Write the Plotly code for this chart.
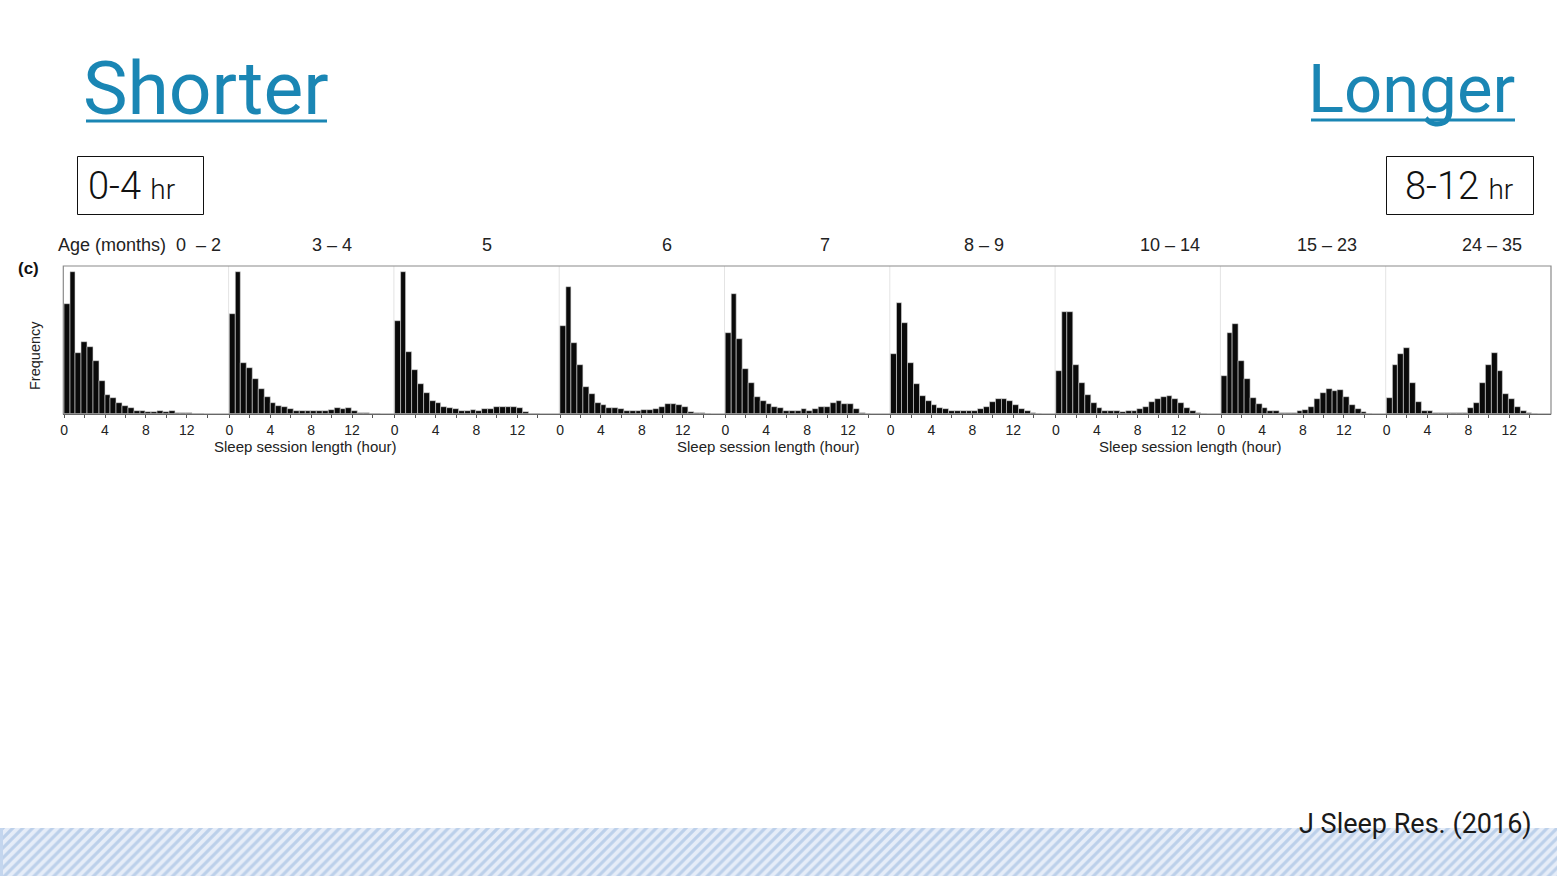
import plotly.graph_objects as go

# ---------------- data ----------------
AGE_GROUPS = ["0  – 2", "3 – 4", "5", "6", "7", "8 – 9", "10 – 14", "15 – 23", "24 – 35"]
BIN_WIDTH_H = 0.57          # histogram bin width in hours (estimated)
X_TICKS = [0, 4, 8, 12]

# relative frequency per bin (% of panel height), bins start at 0 h
F_0_2 = [74.5, 96, 41.4, 48.4, 45, 36, 22.5, 12.6, 10.8, 7.7, 5.4, 4, 2.3, 2.3, 1.4, 1.4,
         1.8, 1.4, 1.8, 0.9, 0.5, 0.5, 0.3, 0.1]
F_3_4 = [67.8, 96, 34.5, 31, 23.4, 16.7, 11.5, 7.7, 5.4, 4.5, 3.6, 2.3, 2.3, 2.3, 2.3, 2.3,
         2.3, 2.7, 4, 3.4, 4, 2.3, 0.9, 0.5, 0.2, 0.2]
F_5 = [62.6, 96, 41.9, 29.5, 20, 14, 8.6, 7.2, 5, 4, 3.2, 2.3, 2.3, 2.7, 1.8, 3.2, 3.2, 4.5,
       4.7, 5, 5, 4, 1.4, 0.2, 0.2]
F_6 = [59.5, 85.8, 48, 33.3, 18, 13.5, 7.7, 6.3, 4.3, 4.3, 3.6, 2.3, 2.3, 2.3, 2.7, 2.9, 3.2,
       4.5, 6.8, 6.8, 6.3, 5, 1.6, 0.7, 0.5, 0.2]
F_7 = [55, 80.9, 50.5, 30.6, 20.7, 11.5, 9, 6.8, 4.7, 4, 2.3, 1.8, 2.3, 3.2, 2.3, 3.6, 4.5, 5,
       7.7, 8.6, 6.8, 6.8, 3.2, 0.9, 0.2]
F_8_9 = [40.3, 75.2, 61.7, 34.7, 20.3, 12.2, 8.6, 6.3, 4, 3.6, 1.8, 1.8, 1.8, 1.8, 2.3, 3.2, 5,
         8.1, 10.1, 10.4, 8.6, 6.3, 3.6, 1.8, 0.7, 0.2]
F_10_14 = [29, 69, 69, 32.9, 21.2, 12.6, 7.7, 4, 2.3, 2.3, 2.3, 1.4, 2.3, 2.3, 3.6, 4.5, 8.1,
           10.4, 11.5, 12.2, 9.9, 7.2, 4, 1.8, 0.5, 0.2]
F_15_23 = [25.5, 55, 61, 35.6, 23.9, 10.8, 6.8, 4, 2.3, 1.8, 0.9, 0.9, 0.9, 1.8, 2.7, 4.5, 9.9,
           14.4, 16.7, 15.8, 16, 11.5, 6.3, 3.6, 1.1, 0.2]
F_24_35 = [10.8, 32.9, 40.3, 44.6, 21.2, 8.1, 2.3, 2.3, 0.5, 0.5, 0.5, 0.7, 0.5, 0.7, 4, 7.2,
           21.2, 33.3, 41, 28.8, 13.5, 10.4, 4.5, 1.8, 0.7, 0.2]
PANELS = [F_0_2, F_3_4, F_5, F_6, F_7, F_8_9, F_10_14, F_15_23, F_24_35]

# ---------------- layout constants (pixels) ----------------
W, H = 1557, 876
X_OFF = 3          # observed left offset of the paper area in the rendered page
PANEL_LEFT_PX = 63.3
PANEL_W_PX = 165.3
PLOT_TOP_PX, PLOT_BOT_PX = 266, 414
BAND_TOP_PX = 828
X_RANGE = [-0.08, 16.09]
AGE_LABEL_X_PX = [None, 332, 487, 667, 825, 984, 1170, 1327, 1492]
XLABEL_X_PX = [305, 768, 1190]

BLUE = "#1a86b4"
SLIDE_FONT = "Roboto"
FIG_FONT = "Liberation Sans"


def px(x):
    return (x - X_OFF) / (W - X_OFF)


def py(y):
    return 1 - y / H


fig = go.Figure()
layout = dict(
    width=W, height=H, margin=dict(l=0, r=0, t=0, b=0, pad=0),
    paper_bgcolor="white", plot_bgcolor="rgba(0,0,0,0)",
    showlegend=False, bargap=0,
)

ydom = [py(PLOT_BOT_PX), py(PLOT_TOP_PX)]
tickvals = list(range(0, 16, 2))
ticktext = [str(v) if v in X_TICKS else "" for v in tickvals]

for i, freq in enumerate(PANELS):
    n = i + 1
    xname = "x" if n == 1 else f"x{n}"
    yname = "y" if n == 1 else f"y{n}"
    xs = [BIN_WIDTH_H * (k + 0.5) for k in range(len(freq))]
    fig.add_trace(go.Bar(
        x=xs, y=freq, width=BIN_WIDTH_H, xaxis=xname, yaxis=yname,
        marker=dict(color="#0a0a0a", line=dict(color="#d8d8d8", width=0.6)),
        hoverinfo="skip",
    ))
    x0 = px(PANEL_LEFT_PX + PANEL_W_PX * i)
    x1 = px(PANEL_LEFT_PX + PANEL_W_PX * (i + 1))
    layout["xaxis" if n == 1 else f"xaxis{n}"] = dict(
        domain=[x0, x1], range=X_RANGE, anchor=yname,
        tickvals=tickvals, ticktext=ticktext, ticks="outside", ticklen=3,
        tickcolor="#555", tickwidth=1, ticklabelstandoff=0,
        showline=True, linecolor="#444", linewidth=1,
        showgrid=False, zeroline=False, fixedrange=True,
        tickfont=dict(family=FIG_FONT, size=14, color="#222"),
    )
    layout["yaxis" if n == 1 else f"yaxis{n}"] = dict(
        domain=ydom, range=[0, 100], anchor=xname, visible=False, fixedrange=True,
    )

# hatched band at the bottom of the slide
fig.add_trace(go.Bar(
    x=[0.5], y=[1], width=[1], xaxis="x10", yaxis="y10", hoverinfo="skip",
    marker=dict(color="#e4ecf7", line=dict(width=0),
                pattern=dict(shape="/", fgcolor="#92b3dc", bgcolor="#e6edf8",
                             size=7, solidity=0.45)),
))
layout["xaxis10"] = dict(domain=[0, 1], range=[0, 1], anchor="y10", visible=False, fixedrange=True)
layout["yaxis10"] = dict(domain=[0, py(BAND_TOP_PX)], range=[0, 1], anchor="x10",
                         visible=False, fixedrange=True)

shapes = []
# fill the few pixels left of the paper area with the band tint
shapes.append(dict(type="rect", xref="paper", yref="paper", x0=px(0), x1=px(X_OFF),
                   y0=py(H), y1=py(BAND_TOP_PX), fillcolor="#c4d6ee", line=dict(width=0)))
# frame
shapes.append(dict(type="rect", xref="paper", yref="paper",
                   x0=px(PANEL_LEFT_PX), x1=px(PANEL_LEFT_PX + PANEL_W_PX * 9),
                   y0=ydom[0], y1=ydom[1], line=dict(color="#8a8a8a", width=1.2)))
# faint panel dividers
for i in range(1, 9):
    xx = px(PANEL_LEFT_PX + PANEL_W_PX * i)
    shapes.append(dict(type="line", xref="paper", yref="paper", x0=xx, x1=xx,
                       y0=ydom[0], y1=ydom[1], layer="below",
                       line=dict(color="#e4e4e4", width=1)))
# underlines of the headings
shapes.append(dict(type="line", xref="paper", yref="paper", x0=px(86), x1=px(327),
                   y0=py(121), y1=py(121), line=dict(color=BLUE, width=3)))
shapes.append(dict(type="line", xref="paper", yref="paper", x0=px(1311), x1=px(1515),
                   y0=py(120), y1=py(120), line=dict(color=BLUE, width=3)))
# boxes
shapes.append(dict(type="rect", xref="paper", yref="paper", x0=px(77.5), x1=px(203.5),
                   y0=py(214.5), y1=py(156.5), line=dict(color="#111", width=1)))
shapes.append(dict(type="rect", xref="paper", yref="paper", x0=px(1386.5), x1=px(1533.5),
                   y0=py(214.5), y1=py(156.5), line=dict(color="#111", width=1)))
layout["shapes"] = shapes

ann = []


def add_text(text, x, y, size, family=FIG_FONT, color="#222", xanchor="center",
             yanchor="middle", angle=0, weight=None):
    font = dict(family=family, size=size, color=color)
    if weight:
        font["weight"] = weight
    ann.append(dict(text=text, x=px(x), y=py(y), xref="paper", yref="paper",
                    showarrow=False, xanchor=xanchor, yanchor=yanchor, textangle=angle,
                    font=font))


# age row
add_text("Age (months)  " + AGE_GROUPS[0], 56, 245, 18, xanchor="left")
for lab, xc in zip(AGE_GROUPS[1:], AGE_LABEL_X_PX[1:]):
    add_text(lab, xc, 245, 18)
add_text("<b>(c)</b>", 28, 268, 17, color="#111")
add_text("Frequency", 35, 356, 14.5, angle=-90)
for xc in XLABEL_X_PX:
    add_text("Sleep session length (hour)", xc, 446, 15)

# slide texts
add_text("Shorter", 81, 88, 75, family=SLIDE_FONT, color=BLUE, xanchor="left")
add_text("Longer", 1517, 89, 67, family=SLIDE_FONT, color=BLUE, xanchor="right")
add_text("0-4 <span style='font-size:28px'>hr</span>", 86, 186, 38,
         family=SLIDE_FONT, color="#111", xanchor="left", weight=300)
add_text("8-12 <span style='font-size:28px'>hr</span>", 1403, 186, 38,
         family=SLIDE_FONT, color="#111", xanchor="left", weight=300)
add_text("J Sleep Res. (2016)", 1534, 824, 27, family=SLIDE_FONT, color="#1a1a1a",
         xanchor="right")
layout["annotations"] = ann

fig.update_layout(**layout)
fig.write_html(
    "out.html",
    config={"displayModeBar": False},
    post_script="document.body.style.margin='0';document.body.style.overflow='hidden';",
)
